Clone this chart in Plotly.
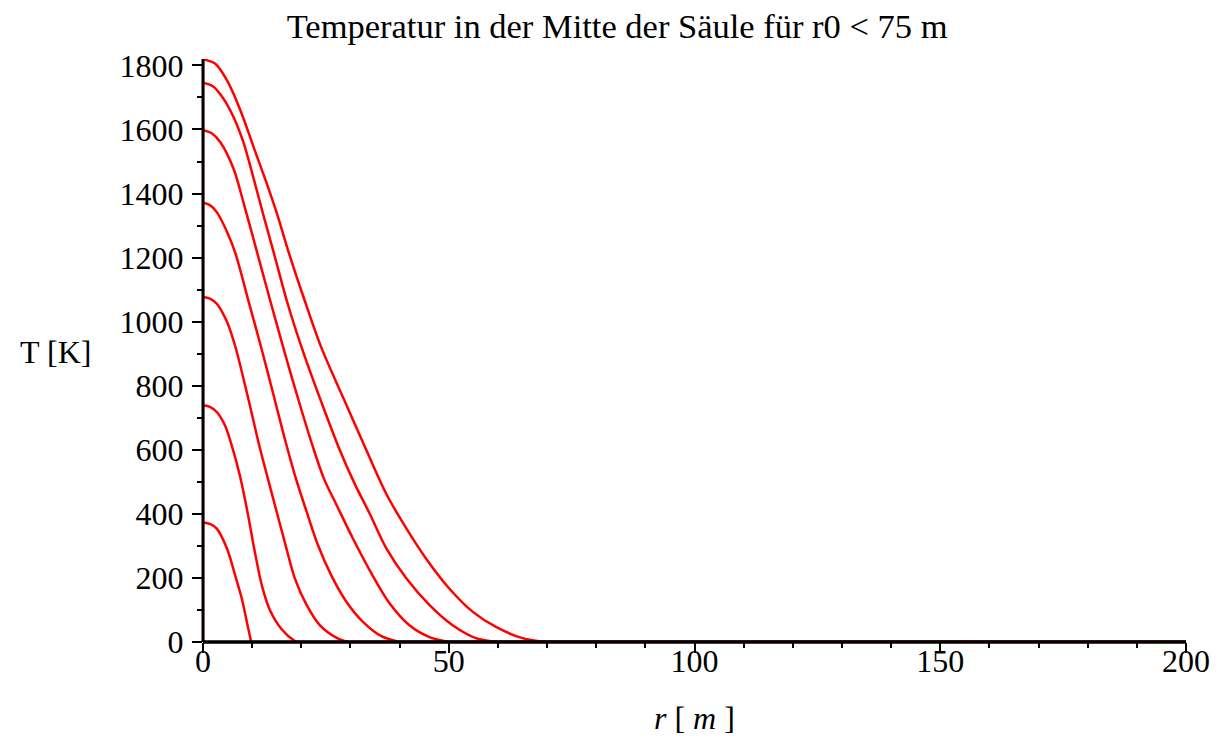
import plotly.graph_objects as go

# Curves: r0 = 10 ... 70 m  (r in m, T in K)
r_10 = [0, 1.5, 2.8, 4.87, 6.55, 7.9, 8.9, 9.8]
T_10 = [373, 368, 354, 292, 208, 135, 64, 0]

r_20 = [0, 1.4, 2.8, 4.5, 6.0, 7.5, 9.0, 10.5, 12.0, 13.6, 16.0, 18.7, 19.2]
T_20 = [739, 734, 718, 675, 605, 520, 410, 285, 175, 100, 40, 3, 0]

r_30 = [0, 1.4, 2.8, 4.9, 6.6, 9.2, 11.55, 13.2, 15.0, 16.7, 18.7, 21.1, 23.8, 27.2, 29.5]
T_30 = [1077, 1072, 1056, 999, 921, 760, 607, 510, 406, 308, 198, 115, 52, 13, 0]

r_40 = [0, 1.4, 2.8, 4.9, 6.6, 9.3, 12.0, 14.4, 16.8, 19.0, 21.1, 23.4, 26.1, 29.2, 32.6, 36.3, 40]
T_40 = [1371, 1364, 1342, 1280, 1213, 1062, 910, 768, 625, 505, 406, 302, 208, 125, 62, 18, 0]

r_50 = [0, 1.7, 3.5, 6.2, 8.2, 10.8, 13.6, 16.5, 19.4, 22.3, 24.6, 27.2, 30.5, 34.2, 38.0, 42.0, 46.1, 50]
T_50 = [1598, 1589, 1561, 1478, 1374, 1228, 1070, 910, 757, 612, 510, 427, 323, 216, 120, 52, 15, 0]

r_60 = [0, 2.0, 4.0, 6.2, 8.2, 10.3, 12.3, 14.4, 17.3, 20.5, 24.1, 27.8, 30.8, 33.9, 37.3, 41.4, 46.1, 50.8, 55.5, 60]
T_60 = [1746, 1735, 1700, 1639, 1561, 1447, 1332, 1215, 1052, 900, 748, 600, 496, 401, 292, 198, 115, 52, 12, 0]

r_70 = [0, 2.5, 5.0, 7.6, 10.3, 13.0, 15.3, 17.4, 20.6, 24.0, 28.6, 33.2, 37.3, 41.4, 45.4, 50.1, 54.9, 59.6, 65.0, 70]
T_70 = [1819, 1805, 1750, 1660, 1545, 1430, 1325, 1218, 1070, 922, 760, 600, 462, 354, 260, 167, 94, 47, 12, 0]

R_MAX = 200
T_TOP = 1820

curves = [(r_10, T_10), (r_20, T_20), (r_30, T_30), (r_40, T_40),
          (r_50, T_50), (r_60, T_60), (r_70, T_70)]

RED = "#ff0000"
fig = go.Figure()

# vertical segment at r = 0
fig.add_trace(go.Scatter(x=[0, 0], y=[0, T_TOP], mode="lines", cliponaxis=False,
                         line=dict(color=RED, width=2.5), showlegend=False, hoverinfo="skip"))

for r, T in curves:
    fig.add_trace(go.Scatter(x=r, y=T, mode="lines",
                             line=dict(color=RED, width=2.5, shape="spline", smoothing=0.9),
                             showlegend=False))
    fig.add_trace(go.Scatter(x=[r[-1], R_MAX], y=[0, 0], mode="lines", cliponaxis=False,
                             line=dict(color=RED, width=2.5), showlegend=False, hoverinfo="skip"))

FONT = "Liberation Serif"
FS = 32
axis_common = dict(showgrid=False, zeroline=False, showline=False,
                   ticks="outside", ticklen=10, tickwidth=2, tickcolor="black")
fig.update_layout(
    width=1222, height=741,
    paper_bgcolor="white", plot_bgcolor="white",
    margin=dict(l=203, r=34, t=59, b=99),
    font=dict(family=FONT, size=FS, color="black"),
    title=dict(text="Temperatur in der Mitte der Säule für r0 < 75 m",
               x=0.505, xanchor="center", xref="container", y=0.981, yanchor="top",
               yref="container",
               font=dict(family=FONT, size=34.5, color="black")),
    xaxis=dict(range=[0, R_MAX], **axis_common,
               tickvals=[0, 50, 100, 150, 200], ticklabelstandoff=-19,
               minor=dict(tickvals=list(range(10, 200, 10)), ticks="outside",
                          ticklen=5, tickwidth=2, tickcolor="black"),
               tickfont=dict(family=FONT, size=FS)),
    yaxis=dict(range=[0, T_TOP], **axis_common,
               tickvals=list(range(0, 1801, 200)), ticklabelstandoff=2,
               minor=dict(tickvals=list(range(100, 1800, 200)), ticks="outside",
                          ticklen=5, tickwidth=2, tickcolor="black"),
               tickfont=dict(family=FONT, size=FS)),
    shapes=[
        dict(type="line", xref="paper", yref="paper", x0=0, x1=1, y0=0, y1=0,
             line=dict(color="black", width=3.5), layer="above"),
        dict(type="line", xref="paper", yref="paper", x0=0, x1=0, y0=0, y1=1,
             line=dict(color="black", width=3), layer="above"),
    ],
    annotations=[
        dict(text="T [K]", x=-0.188, y=0.497, xref="paper", yref="paper",
             xanchor="left", yanchor="middle", showarrow=False,
             font=dict(family=FONT, size=FS)),
        dict(text="<i>r</i> [ <i>m</i> ]", x=0.5, y=-0.131, xref="paper", yref="paper",
             xanchor="center", yanchor="middle", showarrow=False,
             font=dict(family=FONT, size=FS)),
    ],
)

fig.write_html("out.html")
